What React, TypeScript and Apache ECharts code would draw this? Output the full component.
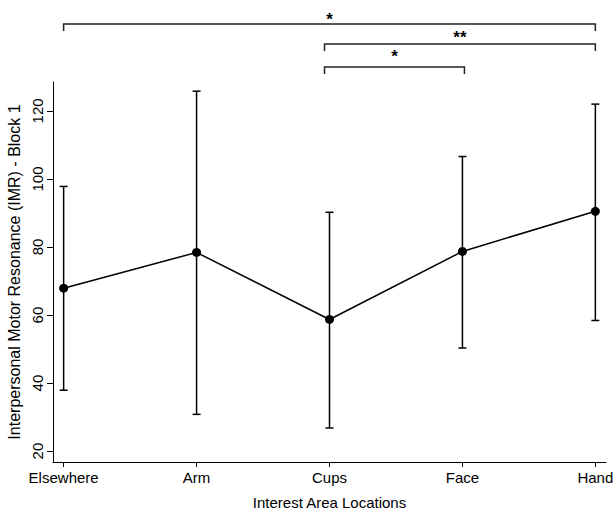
import React, { useEffect, useRef } from "react";
import * as echarts from "echarts";

const categories = ["Elsewhere", "Arm", "Cups", "Face", "Hand"];
const means = [67.9, 78.4, 58.7, 78.7, 90.5];
const lower = [37.9, 30.8, 26.8, 50.3, 58.4];
const upper = [97.8, 125.8, 90.2, 106.6, 122.0];
const yTicks = [20, 40, 60, 80, 100, 120];
const bracketFrom = [0, 2, 2];
const bracketTo = [4, 4, 3];
const bracketLabels = ["*", "**", "*"];

const FONT = "'Liberation Sans', Arial, Helvetica, sans-serif";
const bracketY = [24, 44, 67];
const bracketShiftL = [0, -5, -5];
const bracketShiftR = [0, 0, 2];
const starY = [19, 37, 56];
const bracketDrop = 7;

export default function App() {
  const ref = useRef<HTMLDivElement>(null);
  useEffect(() => {
    document.body.style.margin = "0";
    const chart = echarts.init(ref.current!, null, { renderer: "svg" });
    const xPos = categories.map((_, i) => i + 1);
    const option: any = {
      animation: false,
      backgroundColor: "#fff",
      grid: { left: 53, top: 82, right: 8, bottom: 50, outerBoundsMode: "none" },
      xAxis: {
        type: "value",
        min: 0.92,
        max: 5.08,
        name: "Interest Area Locations",
        nameLocation: "middle",
        nameGap: 33,
        nameTextStyle: { fontFamily: FONT, fontSize: 15, color: "#000" },
        axisLine: { onZero: false, lineStyle: { color: "#000", width: 1 } },
        axisTick: { customValues: xPos, length: 5, lineStyle: { color: "#000" } },
        axisLabel: {
          customValues: xPos,
          formatter: (v: number) => categories[Math.round(v) - 1] ?? "",
          fontFamily: FONT,
          fontSize: 15,
          color: "#000",
          margin: 8,
        },
        splitLine: { show: false },
      },
      yAxis: {
        type: "value",
        min: 16.8,
        max: 128.5,
        name: "Interpersonal Motor Resonance (IMR) - Block 1",
        nameLocation: "middle",
        nameGap: 30,
        nameTextStyle: { fontFamily: FONT, fontSize: 16, color: "#000" },
        axisLine: { show: true, onZero: false, lineStyle: { color: "#000", width: 1 } },
        axisTick: { show: true, customValues: yTicks, length: 6, lineStyle: { color: "#000" } },
        axisLabel: {
          customValues: yTicks,
          rotate: 90,
          fontFamily: FONT,
          fontSize: 15,
          color: "#000",
          margin: 8,
        },
        splitLine: { show: false },
      },
      series: [
        {
          type: "custom",
          z: 2,
          data: categories.map((_, i) => [i + 1, lower[i], upper[i]]),
          renderItem: (params: any, api: any) => {
            const x = api.value(0);
            const lo = api.coord([x, api.value(1)]);
            const hi = api.coord([x, api.value(2)]);
            const cap = 4;
            const style = { stroke: "#000", lineWidth: 1.5, fill: "none" };
            return {
              type: "group",
              children: [
                { type: "line", shape: { x1: lo[0], y1: lo[1], x2: hi[0], y2: hi[1] }, style },
                { type: "line", shape: { x1: lo[0] - cap, y1: lo[1], x2: lo[0] + cap, y2: lo[1] }, style },
                { type: "line", shape: { x1: hi[0] - cap, y1: hi[1], x2: hi[0] + cap, y2: hi[1] }, style },
              ],
            };
          },
        },
        {
          type: "line",
          z: 3,
          data: categories.map((_, i) => [i + 1, means[i]]),
          symbol: "circle",
          symbolSize: 9,
          lineStyle: { color: "#000", width: 1.5 },
          itemStyle: { color: "#000" },
        },
      ],
    };
    chart.setOption(option);

    const graphics: any[] = [];
    bracketFrom.forEach((f, k) => {
      const x1 = (chart.convertToPixel({ xAxisIndex: 0 }, f + 1) as number) + bracketShiftL[k];
      const x2 = (chart.convertToPixel({ xAxisIndex: 0 }, bracketTo[k] + 1) as number) + bracketShiftR[k];
      const y = bracketY[k];
      graphics.push({
        type: "polyline",
        shape: { points: [[x1, y + bracketDrop], [x1, y], [x2, y], [x2, y + bracketDrop]] },
        style: { stroke: "#222", lineWidth: 1.5, fill: "none" },
      });
      graphics.push({
        type: "text",
        x: (x1 + x2) / 2,
        y: starY[k],
        style: {
          text: bracketLabels[k],
          fontFamily: FONT,
          fontSize: 17,
          fontWeight: "bold",
          fill: "#000",
          align: "center",
          verticalAlign: "middle",
        },
      });
    });
    chart.setOption({ graphic: graphics });

    return () => chart.dispose();
  }, []);
  return <div ref={ref} style={{ width: 614, height: 512 }} />;
}
